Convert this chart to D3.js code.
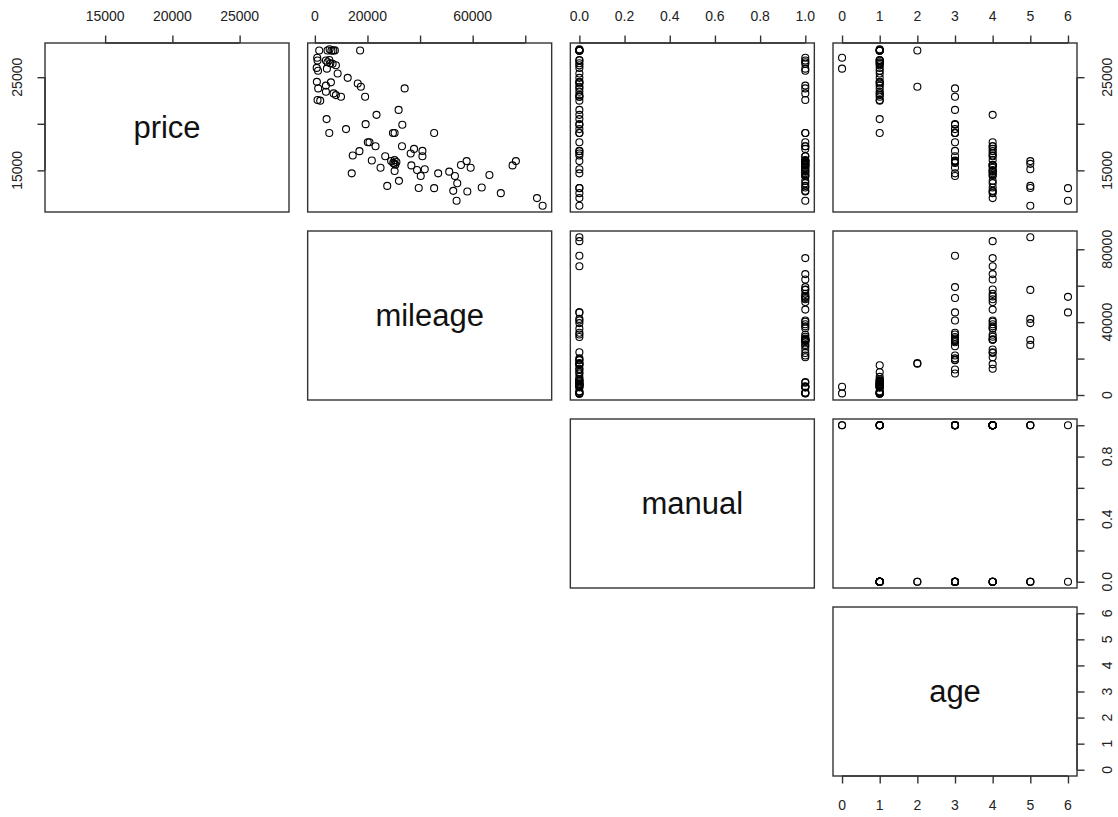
<!DOCTYPE html>
<html><head><meta charset="utf-8">
<script src="https://cdn.jsdelivr.net/npm/d3@7"></script>
<style>body{margin:0;background:#fff}svg{display:block}</style>
</head><body>
<svg id="c" width="1118" height="817"></svg>
<script>
// ---- data (one entry per car) ----
const variables = ["price", "mileage", "manual", "age"];
const price = [
  27090,25920,27870,27870,28000,27850,27870,27880,26800,26600,
  26850,26450,26280,25700,25390,24930,24330,24500,23800,24100,
  24450,23440,23260,23080,22900,22550,22480,20500,19010,26000,
  26500,26800,27870,23970,23800,22900,21490,19890,19960,19010,
  19010,19010,19430,18010,14680,15990,15280,14400,17090,16000,
  15800,16520,16060,15900,12020,20960,18010,17590,17060,16600,
  15280,16100,15600,17590,14930,13870,16810,17300,15530,15040,
  16520,14680,14860,13620,12800,15570,12730,13160,14500,12550,
  15530,14400,11200,15990,13330,15700,13100,15110,11740,13090];
const mileage = [
  900,4577,1656,4800,5600,6300,7000,7600,4200,4800,
  5500,6750,8000,1200,8662,12484,16306,760,1270,4200,
  6100,4200,7130,8000,9936,1019,2038,4459,5477,700,
  5900,1019,17200,17500,34140,19108,31847,33248,19300,29682,
  30319,45350,11847,20127,14013,76433,59236,53248,40892,29000,
  29800,26752,21656,31000,84458,23439,20764,23057,16943,14395,
  24968,30300,30600,33121,30318,31975,36433,37707,36688,38853,
  40892,46879,51083,54140,52611,55541,57962,63439,66369,70700,
  75159,40255,86600,57707,27516,30200,39490,41783,53885,45350];
const manual = [
  1,1,0,0,0,0,0,0,1,1,
  0,1,0,1,0,0,0,0,1,1,
  0,0,1,0,0,1,0,0,0,0,
  0,0,0,0,0,0,0,0,0,1,
  1,0,0,0,0,0,1,1,0,1,
  1,1,1,1,0,0,1,1,0,0,
  1,1,1,1,1,1,0,1,1,1,
  1,1,1,1,1,1,1,1,1,0,
  1,1,0,1,1,1,0,0,1,0];
const age = [
  0,0,1,1,1,1,1,1,1,1,
  1,1,1,1,1,1,1,1,1,1,
  1,1,1,1,1,1,1,1,1,1,
  1,1,2,2,3,3,3,3,3,3,
  3,3,3,3,3,3,3,3,3,3,
  3,3,3,3,4,4,4,4,4,4,
  4,4,4,4,4,4,4,4,4,4,
  4,4,4,4,4,4,4,4,4,4,
  4,4,5,5,5,5,5,5,6,6];

// ---- ticks and the labels printed on each axis side ----
const priceTicks = [15000, 20000, 25000];
const mileageTicks = [0, 20000, 40000, 60000, 80000];
const manualTicks = [0, 0.2, 0.4, 0.6, 0.8, 1.0];
const ageTicks = [0, 1, 2, 3, 4, 5, 6];
const priceTopLabels = [15000, 20000, 25000];
const priceSideLabels = [15000, 25000];
const mileageTopLabels = [0, 20000, 60000];
const mileageSideLabels = [0, 40000, 80000];
const manualTopLabels = [0, 0.2, 0.4, 0.6, 0.8, 1.0];
const manualSideLabels = [0, 0.4, 0.8];
const ageTopLabels = [0, 1, 2, 3, 4, 5, 6];
const ageSideLabels = [0, 1, 2, 3, 4, 5, 6];

const columns = { price, mileage, manual, age };
const ticks = { price: priceTicks, mileage: mileageTicks, manual: manualTicks, age: ageTicks };
const topLabels = { price: priceTopLabels, mileage: mileageTopLabels, manual: manualTopLabels, age: ageTopLabels };
const sideLabels = { price: priceSideLabels, mileage: mileageSideLabels, manual: manualSideLabels, age: ageSideLabels };
const fmt = { price: d => String(d), mileage: d => String(d), manual: d => d.toFixed(1), age: d => String(d) };

// ---- layout ----
const plotLeft = 45, plotTop = 43, cellW = 244, cellH = 169, stepX = 262.67, stepY = 188;
const n = variables.length;
const colX = i => plotLeft + i * stepX;
const rowY = i => plotTop + i * stepY;

const svg = d3.select("#c");
svg.append("rect").attr("width", 1118).attr("height", 817).attr("fill", "#fff");

function padded(v) {
  const [a, b] = d3.extent(v);
  const p = (b - a) * 0.04;
  return [a - p, b + p];
}
const xScale = {}, yScale = {};
variables.forEach((v, i) => {
  xScale[v] = d3.scaleLinear().domain(padded(columns[v])).range([colX(i), colX(i) + cellW]);
  yScale[v] = d3.scaleLinear().domain(padded(columns[v])).range([rowY(i) + cellH, rowY(i)]);
});

const axisColor = "#333", fontFam = "'Liberation Sans', Arial, Helvetica, sans-serif", tickLen = 7.5, fs = 14;

// panels
for (let r = 0; r < n; r++) {
  for (let c = r; c < n; c++) {
    const g = svg.append("g");
    const vx = variables[c], vy = variables[r];
    if (r === c) {
      g.append("text")
        .attr("x", colX(c) + cellW / 2).attr("y", rowY(r) + cellH / 2)
        .attr("dy", "0.35em").attr("text-anchor", "middle")
        .attr("font-family", fontFam).attr("font-size", 31).attr("fill", "#111")
        .text(vx);
    } else {
      g.selectAll("circle").data(d3.range(price.length)).join("circle")
        .attr("cx", k => xScale[vx](columns[vx][k]))
        .attr("cy", k => yScale[vy](columns[vy][k]))
        .attr("r", 3.5).attr("fill", "none").attr("stroke", "#000").attr("stroke-width", 1.1);
    }
    g.append("rect").attr("x", colX(c)).attr("y", rowY(r)).attr("width", cellW).attr("height", cellH)
      .attr("fill", "none").attr("stroke", axisColor).attr("stroke-width", 1.4);
  }
}

function drawAxis(v, side, pos) {
  const tv = ticks[v];
  const horizontal = side === "top" || side === "bottom";
  const sc = horizontal ? xScale[v] : yScale[v];
  const axisGen = side === "top" ? d3.axisTop(sc) : side === "bottom" ? d3.axisBottom(sc) : side === "left" ? d3.axisLeft(sc) : d3.axisRight(sc);
  axisGen.tickValues(tv).tickSize(tickLen).tickSizeOuter(0).tickFormat("");
  const ag = svg.append("g")
    .attr("transform", horizontal ? `translate(0,${pos})` : `translate(${pos},0)`)
    .call(axisGen);
  ag.select(".domain").remove();
  ag.selectAll(".tick line").attr("stroke", axisColor).attr("stroke-width", 1.4);
  // axis line from first to last tick
  const g = svg.append("g").attr("stroke", axisColor);
  const a = sc(tv[0]), b = sc(tv[tv.length - 1]);
  if (horizontal) g.append("line").attr("x1", a).attr("x2", b).attr("y1", pos).attr("y2", pos).attr("stroke-width", 1.4);
  else g.append("line").attr("y1", a).attr("y2", b).attr("x1", pos).attr("x2", pos).attr("stroke-width", 1.4);
  const labs = horizontal ? topLabels[v] : sideLabels[v];
  const tg = svg.append("g").attr("font-family", fontFam).attr("font-size", fs).attr("fill", "#222").attr("text-anchor", "middle");
  labs.forEach(d => {
    const p = sc(d);
    if (side === "top") tg.append("text").attr("x", p).attr("y", pos - 22).text(fmt[v](d));
    else if (side === "bottom") tg.append("text").attr("x", p).attr("y", pos + 34).text(fmt[v](d));
    else {
      const x = side === "left" ? pos - 23 : pos + 35;
      tg.append("text").attr("transform", `translate(${x},${p}) rotate(-90)`).text(fmt[v](d));
    }
  });
}

variables.forEach(v => drawAxis(v, "top", rowY(0)));
drawAxis("price", "left", colX(0));
variables.forEach(v => drawAxis(v, "right", colX(n - 1) + cellW));
drawAxis("age", "bottom", rowY(n - 1) + cellH);
</script>
</body></html>
